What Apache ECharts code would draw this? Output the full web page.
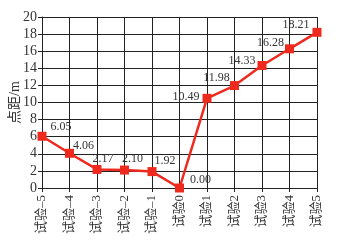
<!DOCTYPE html>
<html><head><meta charset="utf-8">
<script src="https://cdn.jsdelivr.net/npm/echarts@6/dist/echarts.min.js"></script>
<style>html,body{margin:0;padding:0;background:#fff}#c{width:337px;height:248px}</style>
</head><body><div id="c"></div>
<script>
const categories = ['试验–5','试验–4','试验–3','试验–2','试验–1','试验0','试验1','试验2','试验3','试验4','试验5'];
const values = [6.05, 4.06, 2.17, 2.10, 1.92, 0.00, 10.49, 11.98, 14.33, 16.28, 18.21];
const labelOffsets = [[19,-9],[14,-7],[6,-11],[8,-11],[13,-11],[21,-8],[-21,-1],[-18,-8],[-20,-5],[-19,-6],[-21,-7]];
const font = '"Liberation Serif","Noto Sans CJK SC",serif';
const chart = echarts.init(document.getElementById('c'));
chart.setOption({
  animation:false,
  backgroundColor:'#fff',
  grid:{left:42,right:20,top:17,bottom:60,containLabel:false,outerBoundsMode:'none'},
  xAxis:{type:'category',data:categories,boundaryGap:false,
    axisLine:{lineStyle:{color:'#222',width:1}},
    axisTick:{show:true,length:4,lineStyle:{color:'#222'}},
    splitLine:{show:true,lineStyle:{color:'#222',width:1}},
    axisLabel:{rotate:90,color:'#333',fontFamily:font,fontSize:13,margin:7,interval:0}},
  yAxis:{type:'value',min:0,max:20,interval:2,name:'点距/m',nameLocation:'middle',nameGap:20,nameMoveOverlap:false,
    nameTextStyle:{color:'#333',fontFamily:font,fontSize:14},
    axisLine:{show:true,lineStyle:{color:'#222',width:1}},
    axisTick:{show:true,length:4,lineStyle:{color:'#222'}},
    splitLine:{show:true,lineStyle:{color:'#222',width:1}},
    axisLabel:{color:'#333',fontFamily:font,fontSize:14,margin:5}},
  series:[{type:'line',data:values.map((v,i)=>({value:v,label:{offset:labelOffsets[i]}})),
    symbol:'rect',symbolSize:9,
    lineStyle:{color:'#ee2a1f',width:2.5},
    itemStyle:{color:'#ee2a1f'},
    label:{show:true,position:'inside',align:'center',verticalAlign:'middle',
      color:'#333',fontFamily:font,fontSize:12,
      formatter:p=>p.value.toFixed(2)}}]
});
</script></body></html>
